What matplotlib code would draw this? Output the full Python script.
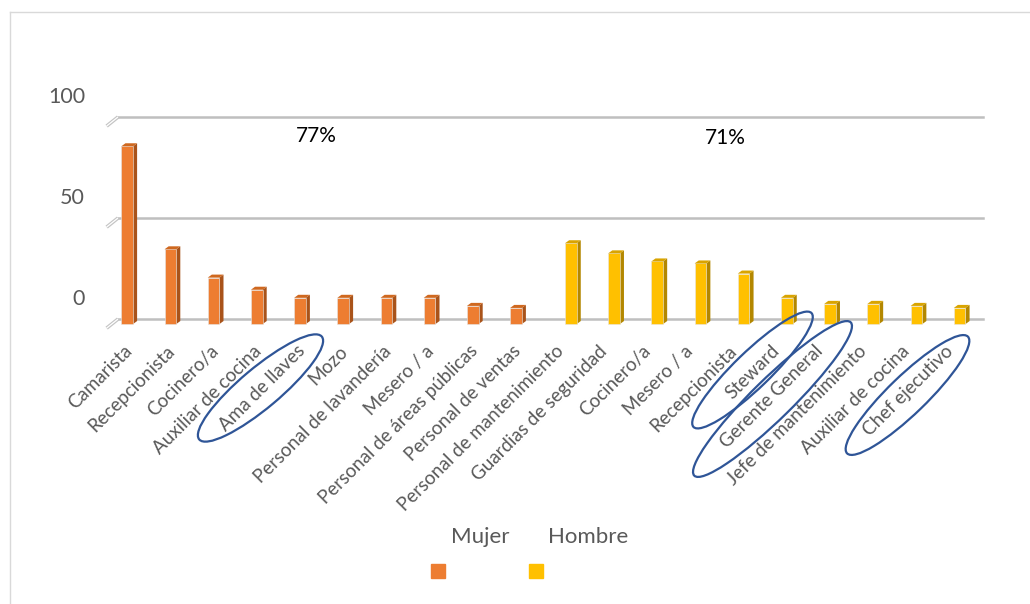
import matplotlib
matplotlib.use("Agg")
import matplotlib.pyplot as plt
from matplotlib.patches import Polygon, Rectangle, Ellipse
from matplotlib.lines import Line2D
from matplotlib.transforms import IdentityTransform
import numpy as np

plt.rcParams['font.family'] = ['Lato', 'DejaVu Sans']

# puestos por sexo
puestos_mujer = ["Camarista", "Recepcionista", "Cocinero/a", "Auxiliar de cocina",
                 "Ama de llaves", "Mozo", "Personal de lavandería", "Mesero / a",
                 "Personal de áreas públicas", "Personal de ventas"]
puestos_hombre = ["Personal de mantenimiento", "Guardias de seguridad", "Cocinero/a",
                  "Mesero / a", "Recepcionista", "Steward", "Gerente General",
                  "Jefe de mantenimiento", "Auxiliar de cocina", "Chef ejecutivo"]
mujer = [88, 37, 23, 17, 13, 13, 13, 13, 9, 8]
hombre = [40, 35, 31, 30, 25, 13, 10, 10, 9, 8]
y_ticks = [0, 50, 100]
pct_labels = ["77%", "71%"]

naranja, naranja_lado, naranja_top = "#ED7D31", "#A9531A", "#CF681F"
amarillo, amarillo_lado, amarillo_top = "#FFC000", "#B38700", "#D9A400"
gris_texto = "#595959"
grid_color = "#BFBFBF"

fig = plt.figure(figsize=(10.30, 6.04), dpi=100)
ax = fig.add_axes([118/1030, 0.4584, 865/1030, 0.3479])
ax.set_xlim(-0.347, 19.676)
ax.set_ylim(-4, 100)
for s in ax.spines.values():
    s.set_visible(False)
ax.set_yticks([])

# pared del fondo: lineas de division con su pequeño tramo inclinado
for v in y_ticks:
    ax.axhline(v, color=grid_color, lw=1.8, zorder=1, clip_on=False)
    ax.add_line(Line2D([-0.347, -0.61], [v, v - 4.5], color="#C4C4C4", lw=2.6,
                       clip_on=False, zorder=1, solid_capstyle="butt"))
    ax.add_line(Line2D([-0.36, -0.60], [v - 0.2, v - 4.3], color="white", lw=0.9,
                       clip_on=False, zorder=1))
    ax.text(-1.11, v + 10, str(v), ha="right", va="center", fontsize=15.5,
            color=gris_texto, clip_on=False)

piso = 2.5
ancho = 0.27
dx, dy = 0.095, 1.5

x_m = np.arange(len(mujer)) - ancho / 2
x_h = np.arange(len(mujer), len(mujer) + len(hombre)) + ancho / 2

def barras_3d(xs, vals, frente, lado, tapa):
    barras = ax.bar(xs, vals, width=ancho, bottom=-piso, color=frente,
                    edgecolor="#E6E6E6", lw=0.4, zorder=3)
    for b in barras:
        x0, y0 = b.get_x(), b.get_y()
        w, h = b.get_width(), b.get_height()
        y1 = y0 + h
        ax.add_patch(Polygon([(x0 + w, y0), (x0 + w + dx, y0 + dy),
                              (x0 + w + dx, y1 + dy), (x0 + w, y1)],
                             closed=True, fc=lado, ec="none", zorder=2))
        ax.add_patch(Polygon([(x0, y1), (x0 + w, y1),
                              (x0 + w + dx, y1 + dy), (x0 + dx, y1 + dy)],
                             closed=True, fc=tapa, ec="none", zorder=3))

barras_3d(x_m, mujer, naranja, naranja_lado, naranja_top)
barras_3d(x_h, hombre, amarillo, amarillo_lado, amarillo_top)

ax.set_xticks(np.arange(len(mujer) + len(hombre)))
ax.set_xticklabels(puestos_mujer + puestos_hombre, rotation=45, ha="right",
                   va="baseline", rotation_mode="anchor", fontsize=13.5,
                   color=gris_texto)
ax.tick_params(axis="x", length=0, pad=18)

ax.text(4.25, 90.6, pct_labels[0], ha="center", va="center", fontsize=15, color="black")
ax.text(13.71, 89.6, pct_labels[1], ha="center", va="center", fontsize=15, color="black")

# leyenda: texto arriba, cuadros abajo
fig.text(480/1030, 1 - 537/604, "Mujer", ha="center", va="center", fontsize=16, color=gris_texto)
fig.text(588/1030, 1 - 537/604, "Hombre", ha="center", va="center", fontsize=16, color=gris_texto)
fig.add_artist(Rectangle((431/1030, 1 - 578/604), 14/1030, 14/604, color=naranja,
                         transform=fig.transFigure))
fig.add_artist(Rectangle((529/1030, 1 - 578/604), 14/1030, 14/604, color=amarillo,
                         transform=fig.transFigure))

# marcas a mano alrededor de algunos puestos
H = 604
for cx, cy, w, h, ang in [(260.5, 388, 160, 40, 40), (752.5, 370, 164, 36, 44),
                          (772.5, 399, 219, 40, 44.4), (907.5, 395, 168, 38, 44)]:
    fig.add_artist(Ellipse((cx, H - cy), w, h, angle=ang, fill=False, ec="#2F5597",
                           lw=1.6, transform=IdentityTransform()))

# borde del area del grafico
fig.add_artist(Line2D([10/1030, 1], [1 - 12/604, 1 - 12/604], color="#D9D9D9", lw=1,
                      transform=fig.transFigure))
fig.add_artist(Line2D([10/1030, 10/1030], [0, 1 - 12/604], color="#D9D9D9", lw=1,
                      transform=fig.transFigure))

fig.savefig("out.png", dpi=100)
